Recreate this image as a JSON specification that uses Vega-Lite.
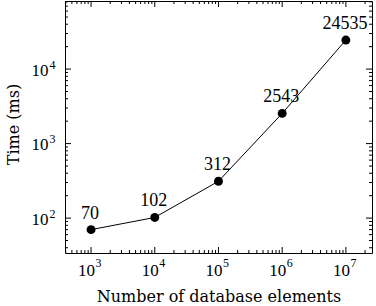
{
  "$schema": "https://vega.github.io/schema/vega-lite/v6.json",
  "autosize": {"type": "none"},
  "width": 307,
  "height": 252,
  "padding": {"left": 65, "top": 1, "right": 4, "bottom": 53},
  "config": {
    "view": {"stroke": "black", "strokeWidth": 1}
  },
  "datasets": {
    "pts": [
      {"n": 1000, "t": 70},
      {"n": 10000, "t": 102},
      {"n": 100000, "t": 312},
      {"n": 1000000, "t": 2543},
      {"n": 10000000, "t": 24535}
    ],
    "xt": [
      {"v": 400}, {"v": 500}, {"v": 600}, {"v": 700}, {"v": 800}, {"v": 900},
      {"v": 1000}, {"v": 2000}, {"v": 3000}, {"v": 4000}, {"v": 5000}, {"v": 6000}, {"v": 7000}, {"v": 8000}, {"v": 9000},
      {"v": 10000}, {"v": 20000}, {"v": 30000}, {"v": 40000}, {"v": 50000}, {"v": 60000}, {"v": 70000}, {"v": 80000}, {"v": 90000},
      {"v": 100000}, {"v": 200000}, {"v": 300000}, {"v": 400000}, {"v": 500000}, {"v": 600000}, {"v": 700000}, {"v": 800000}, {"v": 900000},
      {"v": 1000000}, {"v": 2000000}, {"v": 3000000}, {"v": 4000000}, {"v": 5000000}, {"v": 6000000}, {"v": 7000000}, {"v": 8000000}, {"v": 9000000},
      {"v": 10000000}, {"v": 20000000}
    ],
    "yt": [
      {"v": 40}, {"v": 50}, {"v": 60}, {"v": 70}, {"v": 80}, {"v": 90},
      {"v": 100}, {"v": 200}, {"v": 300}, {"v": 400}, {"v": 500}, {"v": 600}, {"v": 700}, {"v": 800}, {"v": 900},
      {"v": 1000}, {"v": 2000}, {"v": 3000}, {"v": 4000}, {"v": 5000}, {"v": 6000}, {"v": 7000}, {"v": 8000}, {"v": 9000},
      {"v": 10000}, {"v": 20000}, {"v": 30000}, {"v": 40000}, {"v": 50000}, {"v": 60000}, {"v": 70000}, {"v": 80000}
    ]
  },
  "resolve": {"axis": {"x": "independent", "y": "independent"}},
  "layer": [
    {
      "data": {"name": "pts"},
      "mark": {"type": "line", "color": "black", "strokeWidth": 1},
      "encoding": {
        "x": {
          "field": "n", "type": "quantitative",
          "scale": {"type": "log", "domain": [390, 25700000], "nice": false},
          "axis": {"orient": "bottom", "title": "Number of database elements", "titleY": 48, "titleBaseline": "alphabetic",
            "titleFont": "DejaVu Serif", "titleFontSize": 16, "titleFontWeight": "normal", "titleColor": "black",
            "labelFont": "Liberation Serif", "labelFontSize": 17, "labelColor": "black", "labelFlush": false, "labelOverlap": false, "grid": false,
            "ticks": false, "domain": false, "labelPadding": 22, "labelBaseline": "alphabetic", "labelOffset": -5,
            "labelExpr": "'10'", "values": [1000, 10000, 100000, 1000000, 10000000]}
        },
        "y": {
          "field": "t", "type": "quantitative",
          "scale": {"type": "log", "domain": [34, 82000], "nice": false},
          "axis": {"orient": "left", "title": "Time (ms)", "titleX": -47, "titleY": 123, "titleBaseline": "alphabetic",
            "titleFont": "DejaVu Serif", "titleFontSize": 16, "titleFontWeight": "normal", "titleColor": "black",
            "labelFont": "Liberation Serif", "labelFontSize": 17, "labelColor": "black", "labelFlush": false, "labelOverlap": false, "grid": false,
            "ticks": false, "domain": false, "labelPadding": 17, "labelBaseline": "middle", "labelOffset": 1,
            "labelExpr": "'10'", "values": [100, 1000, 10000]}
        }
      }
    },
    {
      "data": {"name": "pts"},
      "mark": {"type": "point", "filled": true, "color": "black", "opacity": 1, "size": 80},
      "encoding": {
        "x": {
          "field": "n", "type": "quantitative",
          "scale": {"type": "log", "domain": [390, 25700000], "nice": false},
          "axis": {"orient": "bottom", "title": null, "ticks": false, "domain": false, "grid": false,
            "labelFont": "Liberation Serif", "labelFontSize": 12, "labelColor": "black", "labelFlush": false, "labelOverlap": false,
            "labelPadding": 13, "labelBaseline": "alphabetic", "labelOffset": 7,
            "labelExpr": "'' + round(log(datum.value)/LN10)", "values": [1000, 10000, 100000, 1000000, 10000000]}
        },
        "y": {
          "field": "t", "type": "quantitative",
          "scale": {"type": "log", "domain": [34, 82000], "nice": false},
          "axis": {"orient": "left", "title": null, "ticks": false, "domain": false, "grid": false,
            "labelFont": "Liberation Serif", "labelFontSize": 12, "labelColor": "black", "labelFlush": false, "labelOverlap": false,
            "labelPadding": 10, "labelBaseline": "alphabetic", "labelOffset": -1,
            "labelExpr": "'' + round(log(datum.value)/LN10)", "values": [100, 1000, 10000]}
        }
      }
    },
    {
      "data": {"name": "pts"},
      "mark": {"type": "text", "color": "black", "fontSize": 18, "font": "Liberation Serif", "baseline": "alphabetic", "dy": -11, "dx": -1},
      "encoding": {
        "x": {"field": "n", "type": "quantitative", "scale": {"type": "log", "domain": [390, 25700000], "nice": false}, "axis": null},
        "y": {"field": "t", "type": "quantitative", "scale": {"type": "log", "domain": [34, 82000], "nice": false}, "axis": null},
        "text": {"field": "t", "type": "nominal"}
      }
    },
    {
      "data": {"name": "xt"},
      "mark": {"type": "tick", "orient": "vertical", "color": "black", "opacity": 1, "thickness": 1, "clip": true},
      "encoding": {
        "x": {"field": "v", "type": "quantitative", "scale": {"type": "log", "domain": [390, 25700000], "nice": false}, "axis": null},
        "y": {"datum": 34, "type": "quantitative", "scale": {"type": "log", "domain": [34, 82000], "nice": false}, "axis": null},
        "size": {"condition": {"test": "abs(log(datum.v)/LN10 - round(log(datum.v)/LN10)) < 0.001", "value": 12}, "value": 6}
      }
    },
    {
      "data": {"name": "xt"},
      "mark": {"type": "tick", "orient": "vertical", "color": "black", "opacity": 1, "thickness": 1, "clip": true},
      "encoding": {
        "x": {"field": "v", "type": "quantitative", "scale": {"type": "log", "domain": [390, 25700000], "nice": false}, "axis": null},
        "y": {"datum": 82000, "type": "quantitative", "scale": {"type": "log", "domain": [34, 82000], "nice": false}, "axis": null},
        "size": {"condition": {"test": "abs(log(datum.v)/LN10 - round(log(datum.v)/LN10)) < 0.001", "value": 12}, "value": 6}
      }
    },
    {
      "data": {"name": "yt"},
      "mark": {"type": "tick", "orient": "horizontal", "color": "black", "opacity": 1, "thickness": 1, "clip": true},
      "encoding": {
        "y": {"field": "v", "type": "quantitative", "scale": {"type": "log", "domain": [34, 82000], "nice": false}, "axis": null},
        "x": {"datum": 390, "type": "quantitative", "scale": {"type": "log", "domain": [390, 25700000], "nice": false}, "axis": null},
        "size": {"condition": {"test": "abs(log(datum.v)/LN10 - round(log(datum.v)/LN10)) < 0.001", "value": 12}, "value": 6}
      }
    },
    {
      "data": {"name": "yt"},
      "mark": {"type": "tick", "orient": "horizontal", "color": "black", "opacity": 1, "thickness": 1, "clip": true},
      "encoding": {
        "y": {"field": "v", "type": "quantitative", "scale": {"type": "log", "domain": [34, 82000], "nice": false}, "axis": null},
        "x": {"datum": 25700000, "type": "quantitative", "scale": {"type": "log", "domain": [390, 25700000], "nice": false}, "axis": null},
        "size": {"condition": {"test": "abs(log(datum.v)/LN10 - round(log(datum.v)/LN10)) < 0.001", "value": 12}, "value": 6}
      }
    }
  ]
}
